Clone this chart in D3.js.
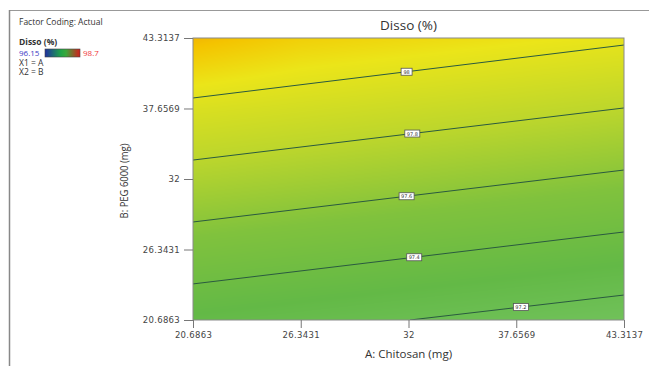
<!DOCTYPE html>
<html>
<head>
<meta charset="utf-8">
<script src="https://cdn.jsdelivr.net/npm/d3@7"></script>
<style>
  body { margin: 0; background: #fff; }
  text { fill: #333; }
</style>
</head>
<body>
<div id="chart"></div>
<script>
// tick values on both factors (actual coding)
var xTicks = [20.6863, 26.3431, 32, 37.6569, 43.3137];
var yTicks = [20.6863, 26.3431, 32, 37.6569, 43.3137];

// response at the tick grid, rows from B = 20.6863 (bottom) up
var gridValues = [
  [97.28, 97.24, 97.20, 97.16, 97.12],
  [97.51, 97.47, 97.43, 97.39, 97.35],
  [97.74, 97.70, 97.66, 97.62, 97.58],
  [97.96, 97.92, 97.88, 97.84, 97.80],
  [98.24, 98.15, 98.11, 98.07, 98.03]
];

// contour lines: level, two end points (A, B) and where the label sits (A)
var contourLevels = [98, 97.8, 97.6, 97.4, 97.2];
var contourStart = [[20.6863, 38.50], [20.6863, 33.52], [20.6863, 28.55], [20.6863, 23.58], [32.08, 20.6863]];
var contourEnd   = [[43.3137, 42.75], [43.3137, 37.70], [43.3137, 32.72], [43.3137, 27.75], [43.3137, 22.69]];
var labelA = [31.9, 32.2, 31.9, 32.3, 37.9];

var legendMin = 96.15, legendMax = 98.7;

var W = 649, H = 366;
var m = {left: 193, top: 38, right: 25, bot: 46};
var pw = W - m.left - m.right, ph = H - m.top - m.bot;

var svg = d3.select("#chart").append("svg")
    .attr("width", W).attr("height", H)
    .style("font-family", "'DejaVu Sans', sans-serif");

// figure frame
svg.append("line").attr("x1", 9).attr("x2", W).attr("y1", 10.5).attr("y2", 10.5)
  .style("stroke", "#999").style("stroke-width", 1);
svg.append("line").attr("x1", 9.5).attr("x2", 9.5).attr("y1", 10).attr("y2", H)
  .style("stroke", "#888").style("stroke-width", 1.5);

var x = d3.scaleLinear().domain([xTicks[0], xTicks[4]]).range([m.left, m.left + pw]);
var y = d3.scaleLinear().domain([yTicks[0], yTicks[4]]).range([m.top + ph, m.top]);

var color = d3.scaleLinear()
  .domain([96.15, 96.8, 97.1, 97.3, 97.55, 97.8, 98.05, 98.2, 98.7])
  .range(["#2233aa", "#1a9a6a", "#72c25c", "#63b946", "#80c23d", "#bcd62c", "#ebe519", "#f4c400", "#e02020"])
  .clamp(true);

// fill: bilinear between grid samples, painted on a canvas
function valueAt(a, b) {
  var i = Math.min(Math.max(d3.bisectRight(xTicks, a) - 1, 0), xTicks.length - 2);
  var j = Math.min(Math.max(d3.bisectRight(yTicks, b) - 1, 0), yTicks.length - 2);
  var tx = (a - xTicks[i]) / (xTicks[i + 1] - xTicks[i]);
  var ty = (b - yTicks[j]) / (yTicks[j + 1] - yTicks[j]);
  var v00 = gridValues[j][i], v10 = gridValues[j][i + 1];
  var v01 = gridValues[j + 1][i], v11 = gridValues[j + 1][i + 1];
  return (v00 * (1 - tx) + v10 * tx) * (1 - ty) + (v01 * (1 - tx) + v11 * tx) * ty;
}

var canvas = document.createElement("canvas");
canvas.width = pw; canvas.height = ph;
var ctx = canvas.getContext("2d");
var img = ctx.createImageData(pw, ph);
for (var py = 0; py < ph; py++) {
  for (var px = 0; px < pw; px++) {
    var c = d3.rgb(color(valueAt(x.invert(m.left + px + 0.5), y.invert(m.top + py + 0.5))));
    var k = (py * pw + px) * 4;
    img.data[k] = c.r; img.data[k + 1] = c.g; img.data[k + 2] = c.b; img.data[k + 3] = 255;
  }
}
ctx.putImageData(img, 0, 0);

svg.append("image")
  .attr("x", m.left).attr("y", m.top)
  .attr("width", pw).attr("height", ph)
  .attr("preserveAspectRatio", "none")
  .attr("href", canvas.toDataURL());

svg.append("clipPath").attr("id", "plotClip")
  .append("rect").attr("x", m.left).attr("y", m.top).attr("width", pw).attr("height", ph);

var lines = svg.append("g").attr("clip-path", "url(#plotClip)");
var line = d3.line().x(function(d) { return x(d[0]); }).y(function(d) { return y(d[1]); });

contourLevels.forEach(function(lv, i) {
  lines.append("path")
    .attr("d", line([contourStart[i], contourEnd[i]]))
    .style("fill", "none")
    .style("stroke", "#2a5a40")
    .style("stroke-width", 1);
});

// contour labels
contourLevels.forEach(function(lv, i) {
  var s = contourStart[i], e = contourEnd[i];
  var t = (labelA[i] - s[0]) / (e[0] - s[0]);
  var b = s[1] + t * (e[1] - s[1]);
  var g = svg.append("g").attr("transform", "translate(" + x(labelA[i]) + "," + y(b) + ")");
  var wdt = lv == 98 ? 11 : 15;
  g.append("rect")
    .attr("x", -wdt / 2).attr("y", -3.5).attr("width", wdt).attr("height", 7)
    .style("fill", "#fff").style("stroke", "#555").style("stroke-width", 0.8);
  g.append("text")
    .attr("text-anchor", "middle").attr("y", 2)
    .style("font-size", "5px")
    .text(lv);
});

// plot border
svg.append("rect")
  .attr("x", m.left).attr("y", m.top).attr("width", pw).attr("height", ph)
  .style("fill", "none").style("stroke", "#8a8a8a").style("stroke-width", 1);

var xAxis = svg.append("g")
  .attr("transform", "translate(0," + (m.top + ph) + ")")
  .call(d3.axisBottom(x).tickValues(xTicks).tickSize(8).tickPadding(4)
    .tickFormat(function(d) { return String(d); }));
var yAxis = svg.append("g")
  .attr("transform", "translate(" + m.left + ",0)")
  .call(d3.axisLeft(y).tickValues(yTicks).tickSize(9).tickPadding(4)
    .tickFormat(function(d) { return String(d); }));

[xAxis, yAxis].forEach(function(a) {
  a.select(".domain").remove();
  a.selectAll(".tick line").style("stroke", "#777");
  a.selectAll(".tick text")
    .style("font-size", "8.5px").style("fill", "#444")
    .style("font-family", "'DejaVu Sans', sans-serif")
    .style("letter-spacing", "0.3px");
});

svg.append("text")
  .attr("x", m.left + pw / 2).attr("y", 30)
  .attr("text-anchor", "middle")
  .style("font-family", "'Open Sans', sans-serif").style("font-size", "13.5px")
  .text("Disso (%)");

svg.append("text")
  .attr("x", m.left + pw / 2).attr("y", 358)
  .attr("text-anchor", "middle")
  .style("font-family", "'Open Sans', sans-serif").style("font-size", "11.5px")
  .text("A: Chitosan (mg)");

svg.append("text")
  .attr("transform", "translate(128," + (m.top + ph / 2 + 2) + ") rotate(-90) scale(0.86,1)")
  .attr("text-anchor", "middle")
  .style("font-family", "'Open Sans', sans-serif").style("font-size", "11px")
  .text("B: PEG 6000 (mg)");

// legend block
var leg = svg.append("g").style("font-family", "'Open Sans', sans-serif");
leg.append("text").attr("x", 19).attr("y", 25).style("font-size", "8.5px").text("Factor Coding: Actual");
leg.append("text").attr("x", 19).attr("y", 45).style("font-size", "8.5px").style("font-weight", "bold").text("Disso (%)");
leg.append("text").attr("x", 19).attr("y", 56).style("font-size", "8px").style("fill", "#3b3bc4").text(legendMin);
leg.append("text").attr("x", 83).attr("y", 56).style("font-size", "8px").style("fill", "#f03a3a").text(legendMax);
leg.append("text").attr("x", 19).attr("y", 65.5).style("font-size", "8.5px").text("X1 = A");
leg.append("text").attr("x", 19).attr("y", 75).style("font-size", "8.5px").text("X2 = B");

var grad = svg.append("defs").append("linearGradient").attr("id", "legGrad");
[["0%", "#1f2fa0"], ["45%", "#1fa548"], ["60%", "#3aa83a"], ["100%", "#d41c1c"]].forEach(function(s) {
  grad.append("stop").attr("offset", s[0]).attr("stop-color", s[1]);
});
leg.append("rect")
  .attr("x", 45).attr("y", 49).attr("width", 35).attr("height", 8)
  .style("fill", "url(#legGrad)").style("stroke", "#444").style("stroke-width", 0.6);
</script>
</body>
</html>
